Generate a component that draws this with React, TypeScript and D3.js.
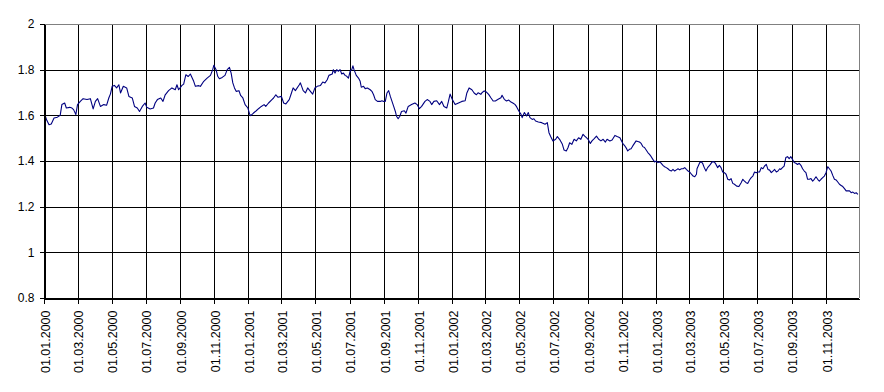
import { useEffect, useRef } from "react";
import * as d3 from "d3";

// weekly-ish readings of the rate, [date, value]
const rates2000: [string, number][] = [
  ["2000-01-03", 1.6], ["2000-01-06", 1.578], ["2000-01-10", 1.559], ["2000-01-14", 1.562],
  ["2000-01-19", 1.588], ["2000-01-25", 1.592], ["2000-01-30", 1.6], ["2000-02-02", 1.647],
  ["2000-02-07", 1.654], ["2000-02-10", 1.632], ["2000-02-16", 1.635], ["2000-02-20", 1.632],
  ["2000-02-23", 1.625], ["2000-02-27", 1.603], ["2000-03-01", 1.647], ["2000-03-06", 1.661],
  ["2000-03-11", 1.673], ["2000-03-18", 1.669], ["2000-03-24", 1.673], ["2000-03-29", 1.628],
  ["2000-04-02", 1.661], ["2000-04-06", 1.673], ["2000-04-11", 1.639], ["2000-04-17", 1.647],
  ["2000-04-22", 1.644], ["2000-04-26", 1.676], ["2000-04-29", 1.694], ["2000-05-02", 1.727],
  ["2000-05-06", 1.731], ["2000-05-10", 1.72], ["2000-05-14", 1.734], ["2000-05-17", 1.698],
  ["2000-05-22", 1.727], ["2000-05-28", 1.72], ["2000-06-01", 1.683], ["2000-06-07", 1.676],
  ["2000-06-11", 1.639], ["2000-06-16", 1.632], ["2000-06-20", 1.617], ["2000-06-25", 1.639],
  ["2000-06-30", 1.654], ["2000-07-03", 1.635], ["2000-07-09", 1.628], ["2000-07-15", 1.632],
  ["2000-07-18", 1.654], ["2000-07-22", 1.669], ["2000-07-28", 1.676], ["2000-08-01", 1.661],
  ["2000-08-05", 1.69], ["2000-08-11", 1.708], ["2000-08-17", 1.72], ["2000-08-23", 1.712],
  ["2000-08-26", 1.734], ["2000-08-29", 1.712], ["2000-09-04", 1.731], ["2000-09-07", 1.737],
  ["2000-09-11", 1.778], ["2000-09-15", 1.77], ["2000-09-19", 1.781], ["2000-09-25", 1.749],
  ["2000-09-28", 1.727], ["2000-10-04", 1.73], ["2000-10-07", 1.727], ["2000-10-13", 1.749],
  ["2000-10-19", 1.763], ["2000-10-25", 1.775], ["2000-10-29", 1.8], ["2000-10-31", 1.819],
  ["2000-11-04", 1.8], ["2000-11-07", 1.771], ["2000-11-10", 1.76], ["2000-11-15", 1.766],
  ["2000-11-20", 1.775], ["2000-11-24", 1.8], ["2000-11-28", 1.81], ["2000-12-01", 1.785],
  ["2000-12-04", 1.742], ["2000-12-07", 1.72], ["2000-12-10", 1.705], ["2000-12-15", 1.708],
  ["2000-12-18", 1.687], ["2000-12-22", 1.676], ["2000-12-26", 1.647], ["2000-12-31", 1.632],
];

const rates2001: [string, number][] = [
  ["2001-01-03", 1.606], ["2001-01-05", 1.599], ["2001-01-10", 1.61], ["2001-01-15", 1.62],
  ["2001-01-19", 1.629], ["2001-01-24", 1.639], ["2001-01-29", 1.647], ["2001-02-01", 1.639],
  ["2001-02-06", 1.654], ["2001-02-12", 1.669], ["2001-02-15", 1.676], ["2001-02-19", 1.69],
  ["2001-02-23", 1.679], ["2001-03-01", 1.683], ["2001-03-05", 1.654], ["2001-03-09", 1.65],
  ["2001-03-15", 1.669], ["2001-03-19", 1.698], ["2001-03-22", 1.72], ["2001-03-26", 1.708],
  ["2001-04-02", 1.734], ["2001-04-04", 1.742], ["2001-04-09", 1.708], ["2001-04-13", 1.698],
  ["2001-04-17", 1.72], ["2001-04-23", 1.702], ["2001-04-26", 1.693], ["2001-04-30", 1.72],
  ["2001-05-04", 1.727], ["2001-05-10", 1.731], ["2001-05-14", 1.746], ["2001-05-18", 1.742],
  ["2001-05-22", 1.756], ["2001-05-25", 1.775], ["2001-05-31", 1.781], ["2001-06-02", 1.8],
  ["2001-06-05", 1.785], ["2001-06-08", 1.8], ["2001-06-11", 1.793], ["2001-06-14", 1.8],
  ["2001-06-17", 1.781], ["2001-06-20", 1.785], ["2001-06-23", 1.775], ["2001-06-26", 1.771],
  ["2001-06-29", 1.763], ["2001-07-02", 1.793], ["2001-07-05", 1.8], ["2001-07-07", 1.817],
  ["2001-07-09", 1.8], ["2001-07-13", 1.775], ["2001-07-17", 1.763], ["2001-07-20", 1.749],
  ["2001-07-22", 1.723], ["2001-07-26", 1.727], ["2001-07-29", 1.717], ["2001-08-02", 1.72],
  ["2001-08-07", 1.712], ["2001-08-10", 1.705], ["2001-08-13", 1.69], ["2001-08-16", 1.669],
  ["2001-08-20", 1.661], ["2001-08-25", 1.661], ["2001-08-28", 1.664], ["2001-08-31", 1.661],
  ["2001-09-03", 1.661], ["2001-09-06", 1.698], ["2001-09-09", 1.708], ["2001-09-12", 1.683],
  ["2001-09-15", 1.661], ["2001-09-18", 1.639], ["2001-09-21", 1.617], ["2001-09-23", 1.596],
  ["2001-09-26", 1.585], ["2001-09-29", 1.596], ["2001-10-02", 1.617], ["2001-10-07", 1.62],
  ["2001-10-10", 1.61], ["2001-10-14", 1.639], ["2001-10-20", 1.647], ["2001-10-26", 1.654],
  ["2001-10-30", 1.647], ["2001-11-03", 1.629], ["2001-11-07", 1.639], ["2001-11-13", 1.661],
  ["2001-11-17", 1.669], ["2001-11-22", 1.661], ["2001-11-25", 1.647], ["2001-11-29", 1.661],
  ["2001-12-04", 1.664], ["2001-12-09", 1.647], ["2001-12-13", 1.661], ["2001-12-17", 1.639],
  ["2001-12-22", 1.632], ["2001-12-25", 1.661], ["2001-12-28", 1.693],
];

const rates2002: [string, number][] = [
  ["2002-01-01", 1.669], ["2002-01-06", 1.647], ["2002-01-12", 1.654], ["2002-01-18", 1.661],
  ["2002-01-24", 1.664], ["2002-01-27", 1.698], ["2002-01-31", 1.72], ["2002-02-05", 1.712],
  ["2002-02-09", 1.698], ["2002-02-13", 1.69], ["2002-02-16", 1.699], ["2002-02-21", 1.692],
  ["2002-02-23", 1.699], ["2002-02-27", 1.707], ["2002-03-03", 1.702], ["2002-03-07", 1.692],
  ["2002-03-11", 1.677], ["2002-03-15", 1.663], ["2002-03-19", 1.663], ["2002-03-24", 1.67],
  ["2002-03-29", 1.677], ["2002-03-31", 1.688], ["2002-04-04", 1.67], ["2002-04-08", 1.663],
  ["2002-04-12", 1.667], ["2002-04-16", 1.658], ["2002-04-20", 1.653], ["2002-04-23", 1.648],
  ["2002-04-26", 1.638], ["2002-04-30", 1.619], ["2002-05-04", 1.604], ["2002-05-06", 1.59],
  ["2002-05-10", 1.612], ["2002-05-14", 1.597], ["2002-05-17", 1.612], ["2002-05-20", 1.59],
  ["2002-05-24", 1.582], ["2002-05-27", 1.585], ["2002-05-30", 1.575], ["2002-06-04", 1.571],
  ["2002-06-10", 1.568], ["2002-06-16", 1.561], ["2002-06-20", 1.568], ["2002-06-23", 1.524],
  ["2002-06-26", 1.507], ["2002-06-30", 1.488], ["2002-07-05", 1.495], ["2002-07-08", 1.507],
  ["2002-07-12", 1.495], ["2002-07-17", 1.473], ["2002-07-20", 1.448], ["2002-07-24", 1.444],
  ["2002-07-27", 1.458], ["2002-07-30", 1.48], ["2002-08-03", 1.473], ["2002-08-07", 1.495],
  ["2002-08-11", 1.488], ["2002-08-15", 1.502], ["2002-08-19", 1.495], ["2002-08-23", 1.517],
  ["2002-08-26", 1.509], ["2002-08-29", 1.502], ["2002-09-01", 1.495], ["2002-09-05", 1.477],
  ["2002-09-08", 1.488], ["2002-09-12", 1.498], ["2002-09-16", 1.509], ["2002-09-20", 1.495],
  ["2002-09-24", 1.488], ["2002-09-28", 1.495], ["2002-10-02", 1.483], ["2002-10-05", 1.495],
  ["2002-10-10", 1.488], ["2002-10-14", 1.492], ["2002-10-19", 1.512], ["2002-10-23", 1.507],
  ["2002-10-28", 1.502], ["2002-10-30", 1.492], ["2002-11-03", 1.473], ["2002-11-05", 1.469],
  ["2002-11-09", 1.454], ["2002-11-11", 1.444], ["2002-11-14", 1.451], ["2002-11-17", 1.454],
  ["2002-11-20", 1.466], ["2002-11-23", 1.477], ["2002-11-26", 1.488], ["2002-12-02", 1.483],
  ["2002-12-05", 1.477], ["2002-12-08", 1.463], ["2002-12-11", 1.459], ["2002-12-14", 1.448],
  ["2002-12-17", 1.437], ["2002-12-20", 1.429], ["2002-12-23", 1.419], ["2002-12-26", 1.407],
  ["2002-12-29", 1.396],
];

const rates2003: [string, number][] = [
  ["2003-01-01", 1.4], ["2003-01-04", 1.393], ["2003-01-07", 1.396], ["2003-01-10", 1.39],
  ["2003-01-13", 1.381], ["2003-01-16", 1.375], ["2003-01-19", 1.371], ["2003-01-22", 1.366],
  ["2003-01-25", 1.359], ["2003-01-28", 1.356], ["2003-01-31", 1.363], ["2003-02-03", 1.356],
  ["2003-02-06", 1.361], ["2003-02-09", 1.366], ["2003-02-12", 1.361], ["2003-02-15", 1.366],
  ["2003-02-18", 1.366], ["2003-02-21", 1.371], ["2003-02-24", 1.363], ["2003-02-27", 1.356],
  ["2003-03-02", 1.352], ["2003-03-05", 1.342], ["2003-03-08", 1.334], ["2003-03-11", 1.331],
  ["2003-03-14", 1.342], ["2003-03-15", 1.366], ["2003-03-20", 1.393], ["2003-03-23", 1.396],
  ["2003-03-25", 1.39], ["2003-03-28", 1.371], ["2003-03-31", 1.356], ["2003-04-03", 1.371],
  ["2003-04-08", 1.385], ["2003-04-11", 1.396], ["2003-04-15", 1.396], ["2003-04-18", 1.385],
  ["2003-04-21", 1.371], ["2003-04-24", 1.381], ["2003-04-27", 1.371], ["2003-04-30", 1.352],
  ["2003-05-03", 1.349], ["2003-05-06", 1.342], ["2003-05-09", 1.32], ["2003-05-12", 1.317],
  ["2003-05-15", 1.323], ["2003-05-18", 1.302], ["2003-05-21", 1.298], ["2003-05-25", 1.29],
  ["2003-05-29", 1.288], ["2003-06-02", 1.305], ["2003-06-05", 1.32], ["2003-06-08", 1.312],
  ["2003-06-11", 1.305], ["2003-06-14", 1.302], ["2003-06-17", 1.317], ["2003-06-20", 1.327],
  ["2003-06-23", 1.334], ["2003-06-26", 1.352], ["2003-06-29", 1.349], ["2003-07-02", 1.352],
  ["2003-07-05", 1.352], ["2003-07-08", 1.371], ["2003-07-11", 1.366], ["2003-07-14", 1.378],
  ["2003-07-17", 1.385], ["2003-07-20", 1.363], ["2003-07-23", 1.36], ["2003-07-26", 1.349],
  ["2003-07-29", 1.356], ["2003-08-01", 1.363], ["2003-08-04", 1.352], ["2003-08-07", 1.356],
  ["2003-08-10", 1.366], ["2003-08-12", 1.363], ["2003-08-15", 1.371], ["2003-08-18", 1.378],
  ["2003-08-21", 1.415], ["2003-08-24", 1.419], ["2003-08-27", 1.41], ["2003-08-30", 1.419],
  ["2003-09-02", 1.407], ["2003-09-05", 1.393], ["2003-09-08", 1.39], ["2003-09-11", 1.385],
  ["2003-09-14", 1.39], ["2003-09-17", 1.381], ["2003-09-20", 1.366], ["2003-09-23", 1.356],
  ["2003-09-26", 1.349], ["2003-09-29", 1.32], ["2003-10-02", 1.32], ["2003-10-05", 1.323],
  ["2003-10-08", 1.312], ["2003-10-11", 1.32], ["2003-10-14", 1.331], ["2003-10-17", 1.32],
  ["2003-10-20", 1.312], ["2003-10-23", 1.32], ["2003-10-26", 1.327], ["2003-10-29", 1.334],
  ["2003-11-01", 1.349], ["2003-11-04", 1.375], ["2003-11-07", 1.366], ["2003-11-10", 1.356],
  ["2003-11-13", 1.337], ["2003-11-16", 1.32], ["2003-11-19", 1.317], ["2003-11-22", 1.308],
  ["2003-11-25", 1.298], ["2003-11-28", 1.293], ["2003-12-01", 1.288], ["2003-12-04", 1.279],
  ["2003-12-07", 1.269], ["2003-12-10", 1.269], ["2003-12-13", 1.269], ["2003-12-16", 1.261],
  ["2003-12-19", 1.264], ["2003-12-22", 1.258], ["2003-12-25", 1.261], ["2003-12-28", 1.254],
];

const yTicks = [0.8, 1, 1.2, 1.4, 1.6, 1.8, 2];
const xStart = "2000-01-01";
const xEnd = "2003-12-30";

interface Point {
  date: Date;
  value: number;
}

const App = () => {
  const svgRef = useRef<SVGSVGElement | null>(null);

  useEffect(() => {
    if (!svgRef.current) return;
    const svg = d3.select(svgRef.current);
    svg.selectAll("*").remove();

    const width = 884;
    const height = 392;
    const margin = { top: 24, right: 25, bottom: 94, left: 44 };
    const font = "'Liberation Sans', Arial, sans-serif";

    const parse = d3.timeParse("%Y-%m-%d");
    const data: Point[] = [...rates2000, ...rates2001, ...rates2002, ...rates2003].map(
      ([d, v]) => ({ date: parse(d)!, value: v })
    );

    const x = d3
      .scaleTime()
      .domain([parse(xStart)!, parse(xEnd)!])
      .range([margin.left, width - margin.right]);

    const y = d3
      .scaleLinear()
      .domain([0.8, 2])
      .range([height - margin.bottom, margin.top]);

    const xTicks = x.ticks(d3.timeMonth.every(2)!);
    const left = margin.left;
    const right = width - margin.right;
    const top = margin.top;
    const bottom = height - margin.bottom;

    // grid
    const grid = svg.append("g").attr("shape-rendering", "crispEdges");
    grid
      .selectAll("line.h")
      .data(yTicks.filter((t) => t < 2))
      .enter()
      .append("line")
      .attr("x1", left)
      .attr("x2", right)
      .attr("y1", (d) => Math.round(y(d)) + 0.5)
      .attr("y2", (d) => Math.round(y(d)) + 0.5)
      .attr("stroke", "#000");
    grid
      .selectAll("line.v")
      .data(xTicks)
      .enter()
      .append("line")
      .attr("x1", (d) => Math.round(x(d)) + 0.5)
      .attr("x2", (d) => Math.round(x(d)) + 0.5)
      .attr("y1", top)
      .attr("y2", bottom)
      .attr("stroke", "#000");

    // plot border (top + right in grey)
    grid
      .append("path")
      .attr(
        "d",
        `M${left},${Math.round(top) + 0.5}H${Math.round(right) + 0.5}V${bottom}`
      )
      .attr("fill", "none")
      .attr("stroke", "#808080");

    // series
    const line = d3
      .line<Point>()
      .x((d) => x(d.date))
      .y((d) => y(d.value));

    svg
      .append("path")
      .datum(data)
      .attr("d", line)
      .attr("fill", "none")
      .attr("stroke", "#000080")
      .attr("stroke-width", 1.1)
      .attr("stroke-linejoin", "round");

    // y axis
    const yAxis = svg
      .append("g")
      .attr("transform", `translate(${Math.round(left) + 0.5},0)`)
      .attr("shape-rendering", "crispEdges")
      .call(
        d3
          .axisLeft(y)
          .tickValues(yTicks)
          .tickSize(5)
          .tickSizeOuter(0)
          .tickPadding(5)
          .tickFormat(d3.format("~g"))
      );
    yAxis.selectAll("path, line").attr("stroke", "#000");
    yAxis
      .selectAll("text")
      .attr("fill", "#000")
      .style("font-family", font)
      .style("font-size", "12px");

    // x axis
    const xAxis = svg
      .append("g")
      .attr("transform", `translate(0,${Math.round(bottom) + 0.5})`)
      .attr("shape-rendering", "crispEdges")
      .call(
        d3
          .axisBottom(x)
          .tickValues(xTicks)
          .tickSize(5)
          .tickSizeOuter(0)
          .tickFormat((d) => d3.timeFormat("%d.%m.%Y")(d as Date))
      );
    xAxis.selectAll("path, line").attr("stroke", "#000");
    xAxis
      .selectAll("text")
      .attr("transform", "rotate(-90)")
      .attr("text-anchor", "end")
      .attr("x", -12)
      .attr("y", 0)
      .attr("dy", "0.4em")
      .attr("fill", "#000")
      .style("font-family", font)
      .style("font-size", "12.5px");
  }, []);

  return (
    <svg
      ref={svgRef}
      width={884}
      height={392}
      style={{ position: "absolute", left: 0, top: 0, background: "#fff" }}
    ></svg>
  );
};

export default App;
